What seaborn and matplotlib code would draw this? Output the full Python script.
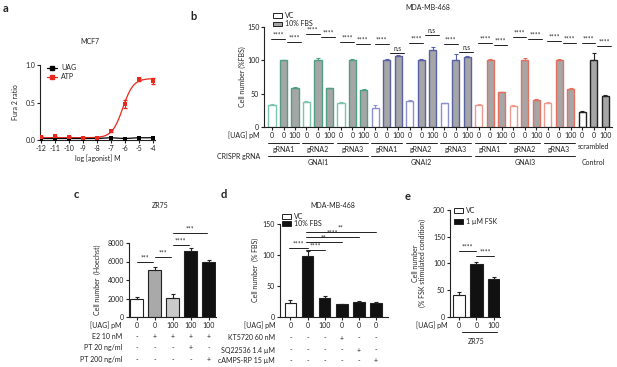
import numpy as np
import pandas as pd
import matplotlib
matplotlib.use("Agg")
import matplotlib.pyplot as plt
import seaborn as sns
from matplotlib import transforms
from matplotlib.patches import Patch
from matplotlib.lines import Line2D

# ---------------- data ----------------
# panel a
a_logdose = [-12, -11, -10, -9, -8, -7, -6, -5, -4]
a_uag = [0.02, 0.02, 0.02, 0.02, 0.02, 0.03, 0.02, 0.03, 0.03]
a_atp = [0.04, 0.05, 0.04, 0.03, 0.03, 0.12, 0.48, 0.81, 0.79]
a_atp_err = [0.01, 0.01, 0.01, 0.005, 0.005, 0.01, 0.05, 0.02, 0.04]
a_fit_bottom, a_fit_top, a_fit_logec50, a_fit_hill = 0.03, 0.82, -6.15, 1.15

# panel b
b_genes = ["GNAI1", "GNAI2", "GNAI3", "Control"]
b_groups = ["gRNA1", "gRNA2", "gRNA3", "gRNA1", "gRNA2", "gRNA3",
            "gRNA1", "gRNA2", "gRNA3", "scrambled"]
b_uag_labels = ["0", "0", "100"]
b_vc = [33, 37, 36, 29, 39, 35.5, 33, 32, 36.5, 23]
b_fbs = [100, 100, 100, 100, 100, 100, 100, 100, 100, 100]
b_uag = [58, 58, 56, 106, 115, 105, 52, 40.5, 57, 47]
b_vc_err = [1, 1.5, 1.5, 4, 1, 1, 1, 1, 1, 1]
b_fbs_err = [1, 3, 1.5, 1.5, 1.5, 9, 1.5, 3, 1.5, 11]
b_uag_err = [1.5, 1, 1.5, 1.5, 5, 2, 1, 1, 1.5, 1]
b_sig_left = ["****"] * 10
b_sig_left_y = [132, 139, 128, 124, 126, 124.5, 126, 135, 129.5, 125.5]
b_sig_right = ["****", "****", "****", "n.s", "n.s", "n.s", "****", "****", "****", "****"]
b_sig_right_y = [127.5, 135, 124, 111, 138, 113, 123, 132, 125.5, 122]

# panel c
c_vals = [1900, 5100, 2100, 7100, 5900]
c_err = [300, 300, 400, 350, 280]
c_uag = ["0", "0", "100", "100", "100"]
c_rows = ["E2 10 nM", "PT 20 ng/ml", "PT 200 ng/ml"]
c_e2 = ["-", "+", "+", "+", "+"]
c_pt20 = ["-", "-", "-", "+", "-"]
c_pt200 = ["-", "-", "-", "-", "+"]
c_sig = [(0, 1, "***", 5950), (1, 2, "***", 6520), (2, 3, "****", 7780), (2, 4, "***", 9080)]

# panel d
d_vals = [23, 99, 30, 20.5, 24.7, 23]
d_err = [5, 7, 4.5, 0.7, 1.5, 1]
d_uag = ["0", "0", "100", "0", "0", "0"]
d_rows = ["KT5720 60 nM", "SQ22536 1.4 \u00b5M", "cAMPS-RP 15 \u00b5M"]
d_kt = ["-", "-", "-", "+", "-", "-"]
d_sq = ["-", "-", "-", "-", "+", "-"]
d_camps = ["-", "-", "-", "-", "-", "+"]
d_sig = [(0, 1, "****", 110.8), (1, 2, "****", 108), (1, 3, "**", 121.5),
         (1, 4, "****", 129.5), (1, 5, "**", 137.6)]

# panel e
e_vals = [40.6, 99, 70]
e_err = [6, 4, 5]
e_uag = ["0", "0", "100"]
e_sig = [(0, 1, "****", 123), (1, 2, "****", 114)]

# ---------------- style ----------------
FS = 5.0
sns.set_theme(style="ticks")
plt.rcParams["font.family"] = ["Lato", "DejaVu Sans"]
plt.rcParams.update({
    "font.size": FS, "axes.linewidth": 0.8, "axes.unicode_minus": False,
    "xtick.major.width": 0.8, "ytick.major.width": 0.8,
    "xtick.major.size": 2.2, "ytick.major.size": 2.2,
    "xtick.major.pad": 1.5, "ytick.major.pad": 1.2,
    "xtick.labelsize": FS, "ytick.labelsize": FS,
    "axes.labelsize": FS, "text.color": "#222222",
    "axes.edgecolor": "#222222", "xtick.color": "#222222", "ytick.color": "#222222",
})

W, H = 617, 367
fig = plt.figure(figsize=(W / 100, H / 100), dpi=100)


def box(x0, y0, x1, y1):
    ax = fig.add_axes([x0 / W, 1 - y1 / H, (x1 - x0) / W, (y1 - y0) / H])
    sns.despine(ax=ax)
    return ax


def fy(y):
    return 1 - y / H


def fxp(x):
    return x / W


def ylabel_at(ax, text, xpx, ypx, **kw):
    ax.set_ylabel(text, **kw)
    bb = ax.get_position()
    ax.yaxis.set_label_coords((fxp(xpx) - bb.x0) / bb.width, (fy(ypx) - bb.y0) / bb.height)
    ax.yaxis.label.set_va("center")
    ax.yaxis.label.set_ha("center")


def title_at(ax, text, xpx, ypx):
    ax.text(fxp(xpx), fy(ypx), text, transform=fig.transFigure, ha="center", va="center", fontsize=FS)


def panel_label(s, xpx, ypx):
    fig.text(fxp(xpx), fy(ypx), s, fontsize=8, fontweight="bold", ha="left", va="center")


def bars(ax, vals, errs, faces, edges, width, lw=0.9):
    df = pd.DataFrame({"pos": list(range(len(vals))), "val": vals})
    sns.barplot(data=df, x="pos", y="val", hue="pos", palette=faces, legend=False,
                width=width, linewidth=lw, saturation=1, ax=ax, errorbar=None)
    for p, ec in zip(ax.patches, edges):
        p.set_edgecolor(ec)
    for i, (v, e, ec) in enumerate(zip(vals, errs, edges)):
        ax.errorbar([i], [v], yerr=[[0], [e]], fmt="none", ecolor=ec,
                    elinewidth=0.8, capsize=1.6, capthick=0.8)
    ax.set_xlabel("")


def sig(ax, x0, x1, txt, y, dy):
    ax.plot([x0, x1], [y, y], color="#222222", lw=0.7, clip_on=False)
    ax.text((x0 + x1) / 2, y + dy, txt, ha="center", va="bottom", fontsize=4.8, clip_on=False)


def legend_at(ax, handles, labels, xpx, ypx, spacing):
    ax.legend(handles=handles, labels=labels, loc="upper left", bbox_to_anchor=(fxp(xpx), fy(ypx)),
              bbox_transform=fig.transFigure, frameon=False, fontsize=FS,
              handlelength=1.3, handleheight=0.7, handletextpad=0.4, borderpad=0,
              borderaxespad=0, labelspacing=spacing)


# ---------------- panel a ----------------
ax = box(40, 65, 155, 140)
xs = np.linspace(-12, -4, 300)
fit = a_fit_bottom + (a_fit_top - a_fit_bottom) / (1 + 10 ** ((a_fit_logec50 - xs) * a_fit_hill))
sns.lineplot(x=xs, y=fit, color="#e8291c", lw=0.9, ax=ax)
sns.lineplot(x=a_logdose, y=a_uag, color="black", lw=0.9, ax=ax)
ax.errorbar(a_logdose, a_atp, yerr=a_atp_err, fmt="none", ecolor="#e8291c", elinewidth=0.8, capsize=1.5)
sns.scatterplot(x=a_logdose, y=a_uag, marker="s", color="black", s=9, linewidth=0, ax=ax, zorder=4)
sns.scatterplot(x=a_logdose, y=a_atp, marker="s", color="#e8291c", s=9, linewidth=0, ax=ax, zorder=4)
ax.set_xlim(-12.05, -3.85)
ax.set_ylim(0, 1.0)
ax.set_xticks(a_logdose)
ax.set_xticklabels([str(v) for v in a_logdose])
ax.set_yticks([0, 0.5, 1.0])
ax.set_yticklabels(["0.0", "0.5", "1.0"])
ax.set_xlabel("log [agonist] M", labelpad=1.5)
ylabel_at(ax, "Fura 2 ratio", 15, 102)
title_at(ax, "MCF7", 90, 42)
ax.legend(handles=[Line2D([], [], color="black", marker="s", ms=3, lw=0.9),
                   Line2D([], [], color="#e8291c", marker="s", ms=3, lw=0.9)],
          labels=["UAG", "ATP"], loc="upper left", bbox_to_anchor=(fxp(47), fy(64)),
          bbox_transform=fig.transFigure, frameon=False, fontsize=FS,
          handlelength=1.5, handletextpad=0.5, borderpad=0, borderaxespad=0, labelspacing=0.3)
panel_label("a", 3, 8)

# ---------------- panel b ----------------
ax = box(264, 27, 612, 127)
gene_edge = {"GNAI1": "#4f9f86", "GNAI2": "#5a62a6", "GNAI3": "#e5705f", "Control": "#222222"}
gene_vc_edge = {"GNAI1": "#7cc4ab", "GNAI2": "#8c92c9", "GNAI3": "#ef9a8e", "Control": "#222222"}
group_gene = ["GNAI1"] * 3 + ["GNAI2"] * 3 + ["GNAI3"] * 3 + ["Control"]
vals, errs, faces, edges = [], [], [], []
for g in range(10):
    gene = group_gene[g]
    vals += [b_vc[g], b_fbs[g], b_uag[g]]
    errs += [b_vc_err[g], b_fbs_err[g], b_uag_err[g]]
    faces += ["white", "#a6a6a6", "#a6a6a6"]
    edges += [gene_vc_edge[gene], gene_edge[gene], gene_edge[gene]]
bars(ax, vals, errs, faces, edges, 0.62, lw=1.0)
ax.set_xlim(-0.7, 29.6)
ax.set_ylim(0, 150)
ax.set_yticks([0, 50, 100, 150])
ax.set_xticks(range(30))
ax.set_xticklabels(b_uag_labels * 10)
ax.set_ylabel("")
ylabel_at(ax, "Cell number (%FBS)", 242, 77)
for g in range(10):
    b0 = 3 * g
    sig(ax, b0 - 0.05, b0 + 1.15, b_sig_left[g], b_sig_left_y[g], 0.8)
    sig(ax, b0 + 1.3, b0 + 2.5, b_sig_right[g], b_sig_right_y[g], 0.8)
tb = transforms.blended_transform_factory(ax.transData, fig.transFigure)
fig.text(fxp(260), fy(135.5), "[UAG] pM", ha="right", va="center", fontsize=FS)
fig.text(fxp(260), fy(156), "CRISPR gRNA", ha="right", va="center", fontsize=FS)
for g in range(10):
    b0 = 3 * g
    if b_groups[g] != "scrambled":
        ax.plot([b0 - 0.35, b0 + 2.35], [fy(143), fy(143)], transform=tb, color="#222222", lw=0.7, clip_on=False)
        ax.text(b0 + 1, fy(149.5), b_groups[g], transform=tb, ha="center", va="center", fontsize=FS)
    else:
        ax.text(b0 + 1, fy(146.5), b_groups[g], transform=tb, ha="center", va="center", fontsize=FS)
for k, gene in enumerate(b_genes):
    b0 = 9 * k
    if gene != "Control":
        ax.plot([b0 - 0.35, b0 + 8.35], [fy(156), fy(156)], transform=tb, color="#222222", lw=0.7, clip_on=False)
        ax.text(b0 + 4, fy(162.5), gene, transform=tb, ha="center", va="center", fontsize=FS)
    else:
        ax.text(b0 + 1, fy(162.5), gene, transform=tb, ha="center", va="center", fontsize=FS)
legend_at(ax, [Patch(facecolor="white", edgecolor="#222222", lw=0.7),
               Patch(facecolor="#a6a6a6", edgecolor="#222222", lw=0.7)],
          ["VC", "10% FBS"], 273, 12, 0.2)
title_at(ax, "MDA-MB-468", 428, 7)
panel_label("b", 190, 16)

# ---------------- panel c ----------------
ax = box(129, 243, 216, 317)
bars(ax, c_vals, c_err, ["white", "#a9a9a9", "#c9c9c9", "#111111", "#111111"],
     ["#222222"] * 5, 0.72, lw=0.8)
ax.set_xlim(-0.42, 4.4)
ax.set_ylim(0, 8000)
ax.set_yticks([0, 2000, 4000, 6000, 8000])
ax.set_xticks(range(5))
ax.set_xticklabels(c_uag)
ax.set_ylabel("")
ylabel_at(ax, "Cell number  (Hoechst)", 97, 280)
for i, j, t, y in c_sig:
    sig(ax, i + 0.0, j - 0.1, t, y, 50)
tc = transforms.blended_transform_factory(ax.transData, fig.transFigure)
fig.text(fxp(122), fy(325.5), "[UAG] pM", ha="right", va="center", fontsize=FS)
for r, (lab, row) in enumerate(zip(c_rows, [c_e2, c_pt20, c_pt200])):
    yy = [336.5, 347.5, 359.5][r]
    fig.text(fxp(122), fy(yy), lab, ha="right", va="center", fontsize=FS)
    for i, s in enumerate(row):
        ax.text(i, fy(yy), s, transform=tc, ha="center", va="center", fontsize=FS)
title_at(ax, "ZR75", 160, 205.5)
panel_label("c", 74, 195)

# ---------------- panel d ----------------
ax = box(279.5, 224, 388, 317)
bars(ax, d_vals, d_err, ["white"] + ["#111111"] * 5, ["#222222"] * 6, 0.68, lw=0.8)
ax.set_xlim(-0.64, 5.7)
ax.set_ylim(0, 150)
ax.set_yticks([0, 50, 100, 150])
ax.set_xticks(range(6))
ax.set_xticklabels(d_uag)
ax.set_ylabel("")
ylabel_at(ax, "Cell number  (% FBS)", 255, 270)
for i, j, t, y in d_sig:
    sig(ax, i - 0.1, j + 0.0, t, y, 0.8)
td = transforms.blended_transform_factory(ax.transData, fig.transFigure)
fig.text(fxp(275), fy(325.5), "[UAG] pM", ha="right", va="center", fontsize=FS)
for r, (lab, row) in enumerate(zip(d_rows, [d_kt, d_sq, d_camps])):
    yy = [338, 350, 361][r]
    fig.text(fxp(275), fy(yy), lab, ha="right", va="center", fontsize=FS)
    for i, s in enumerate(row):
        ax.text(i, fy(yy), s, transform=td, ha="center", va="center", fontsize=FS)
legend_at(ax, [Patch(facecolor="white", edgecolor="#222222", lw=0.7),
               Patch(facecolor="#111111", edgecolor="#222222", lw=0.7)],
          ["VC", "10% FBS"], 282, 213, 0.0)
title_at(ax, "MDA-MB-468", 333, 205)
panel_label("d", 221, 195)

# ---------------- panel e ----------------
ax = box(450, 210, 500, 316.7)
bars(ax, e_vals, e_err, ["white", "#111111", "#111111"], ["#222222"] * 3, 0.72, lw=0.8)
ax.set_xlim(-0.52, 2.35)
ax.set_ylim(0, 200)
ax.set_yticks([0, 50, 100, 150, 200])
ax.set_xticks(range(3))
ax.set_xticklabels(e_uag)
ax.set_ylabel("")
ylabel_at(ax, "Cell number\n(% FSK stimulated condition)", 419, 263, linespacing=1.0)
for i, j, t, y in e_sig:
    sig(ax, i, j, t, y, 1.5)
te = transforms.blended_transform_factory(ax.transData, fig.transFigure)
fig.text(fxp(447), fy(325.5), "[UAG] pM", ha="right", va="center", fontsize=FS)
ax.plot([0.15, 2.2], [fy(331.7), fy(331.7)], transform=te, color="#222222", lw=0.7, clip_on=False)
ax.text(1, fy(341.5), "ZR75", transform=te, ha="center", va="center", fontsize=FS)
legend_at(ax, [Patch(facecolor="white", edgecolor="#222222", lw=0.7),
               Patch(facecolor="#111111", edgecolor="#222222", lw=0.7)],
          ["VC", "1 \u00b5M FSK"], 454, 207, 0.6)
panel_label("e", 405, 196)

fig.savefig("out.png", dpi=100)
